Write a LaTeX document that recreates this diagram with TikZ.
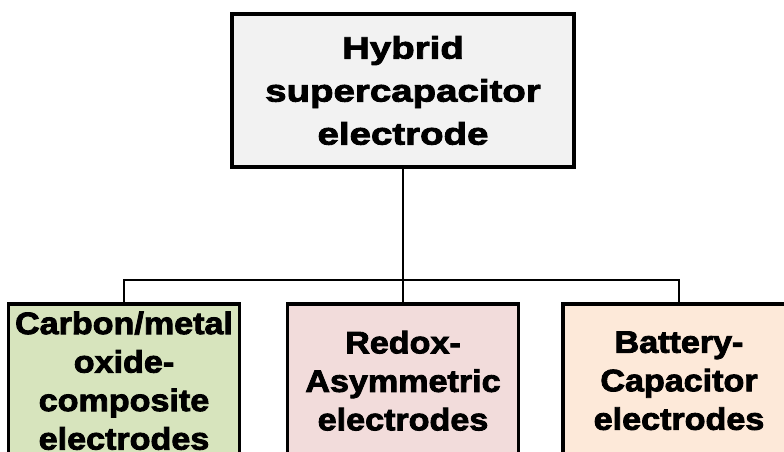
\documentclass[tikz,border=0pt]{standalone}
\usepackage{fontspec}
\setmainfont{Liberation Sans}
\newfontfamily\hubfont{Liberation Sans}[FakeStretch=1.24, BoldFeatures={FakeBold=2.8}]
\newfontfamily\leaffont{Liberation Sans}[FakeStretch=1.1, BoldFeatures={FakeBold=2.8}]
\usepackage{xcolor}
\definecolor{colHub}{HTML}{F2F2F2}
\definecolor{colCarbon}{HTML}{D7E4BD}
\definecolor{colRedox}{HTML}{F2DCDB}
\definecolor{colBattery}{HTML}{FDE9D9}
\usetikzlibrary{positioning}
\tikzset{
	hubbox/.style={draw, line width=3.5pt, fill=colHub, minimum width=342pt, minimum height=153pt, align=center, font=\hubfont\bfseries\fontsize{31}{43}\selectfont},
	leafbox/.style={draw, line width=3.5pt, fill=#1, minimum width=231pt, minimum height=154pt, align=center, anchor=north, font=\leaffont\bfseries\fontsize{31}{38.5}\selectfont},
	link/.style={line width=1.5pt},
}

\begin{document}
\begin{tikzpicture}[x=1pt, y=-1pt]
	\useasboundingbox (0,0) rectangle (784,452);
	\clip (0,0) rectangle (784,452);

	% Top block
	\node[hubbox] (hub) at (403,90.5) {Hybrid\\supercapacitor\\electrode};

	% Three electrode families
	\node[leafbox=colCarbon] (carbon) at (124,302) {Carbon/metal\\oxide-\\composite\\electrodes};
	\node[leafbox=colRedox] (redox) at (403,302) {Redox-\\Asymmetric\\electrodes};
	\node[leafbox=colBattery, minimum width=232pt] (battery) at (679,302) {Battery-\\Capacitor\\electrodes};

	% Tree connectors
	\coordinate (split) at (403,280);
	\draw[link] (hub.south) -- (split);
	\draw[link] (split) -- (redox.north);
	\draw[link] (carbon.north) |- (split);
	\draw[link] (battery.north) |- (split);
\end{tikzpicture}
\end{document}
